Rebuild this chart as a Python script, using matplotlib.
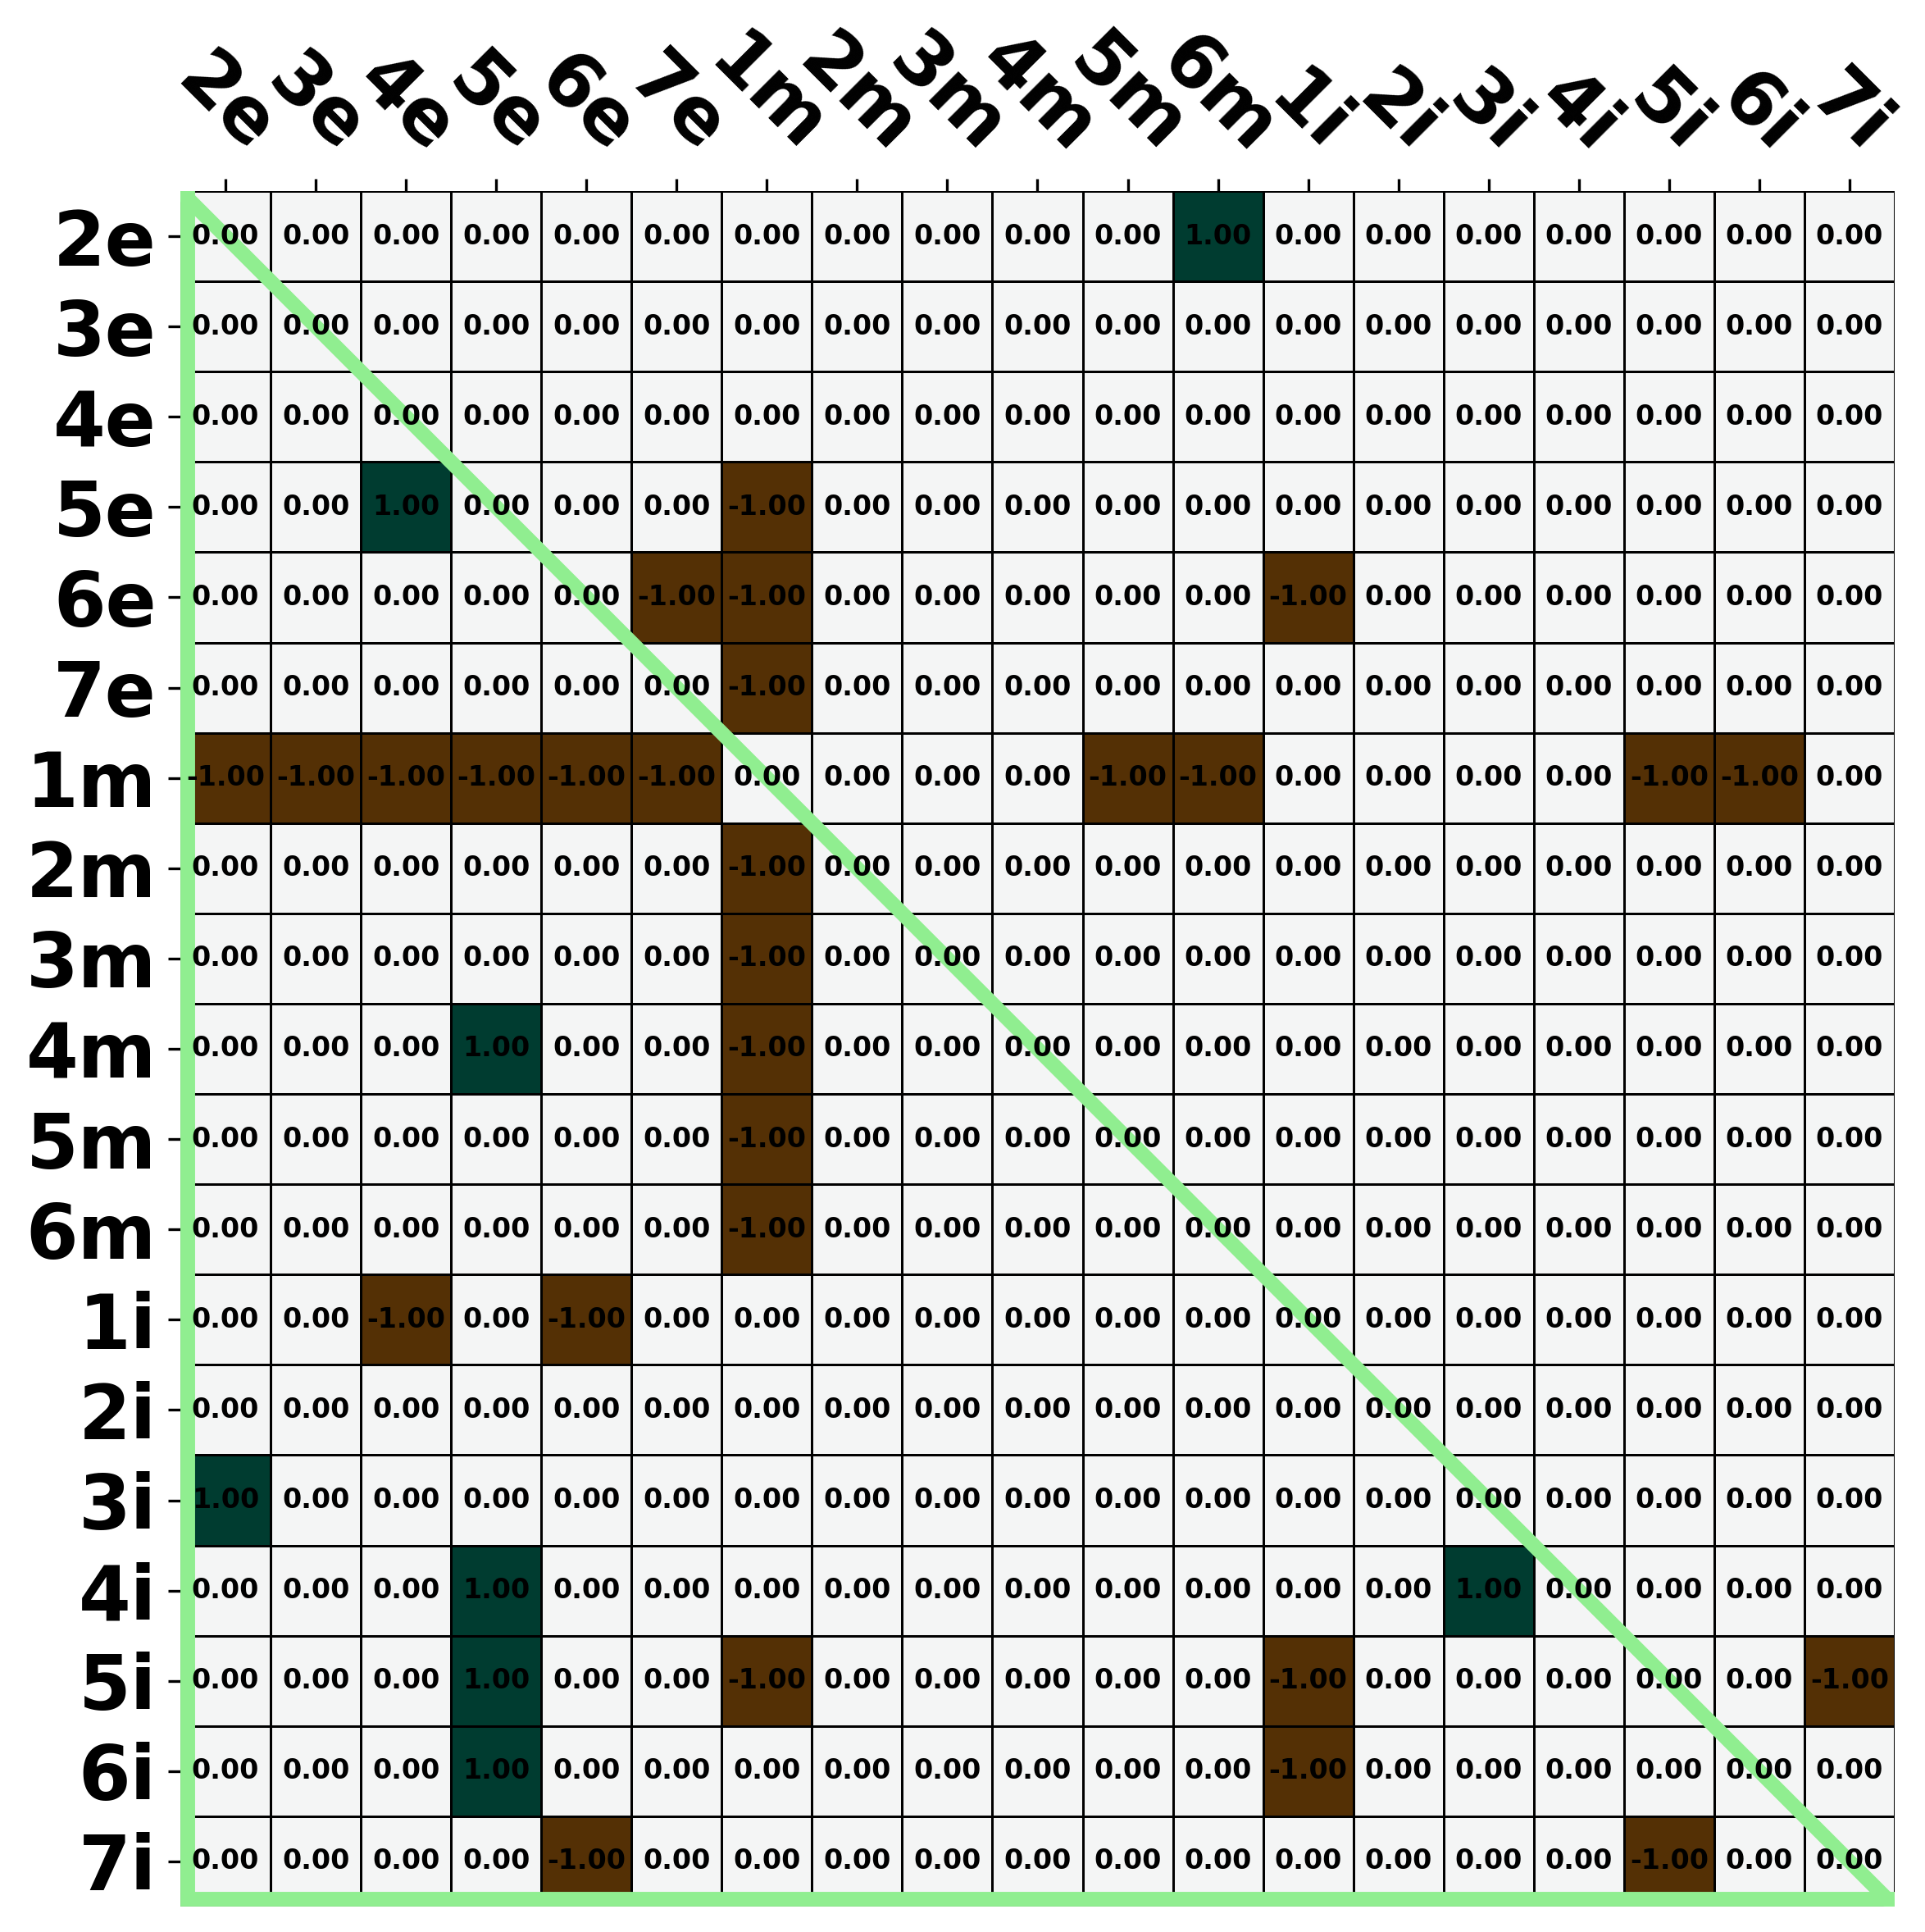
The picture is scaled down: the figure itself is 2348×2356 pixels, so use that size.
import numpy as np
import matplotlib
matplotlib.use('Agg')
import matplotlib.pyplot as plt

# labels for both axes
labels = ['2e', '3e', '4e', '5e', '6e', '7e',
          '1m', '2m', '3m', '4m', '5m', '6m',
          '1i', '2i', '3i', '4i', '5i', '6i', '7i']

# non-zero entries per row: (column label, value)
row_2e = [('6m', 1)]
row_3e = []
row_4e = []
row_5e = [('4e', 1), ('1m', -1)]
row_6e = [('7e', -1), ('1m', -1), ('1i', -1)]
row_7e = [('1m', -1)]
row_1m = [('2e', -1), ('3e', -1), ('4e', -1), ('5e', -1), ('6e', -1), ('7e', -1),
          ('5m', -1), ('6m', -1), ('5i', -1), ('6i', -1)]
row_2m = [('1m', -1)]
row_3m = [('1m', -1)]
row_4m = [('5e', 1), ('1m', -1)]
row_5m = [('1m', -1)]
row_6m = [('1m', -1)]
row_1i = [('4e', -1), ('6e', -1)]
row_2i = []
row_3i = [('2e', 1)]
row_4i = [('5e', 1), ('3i', 1)]
row_5i = [('5e', 1), ('1m', -1), ('1i', -1), ('7i', -1)]
row_6i = [('5e', 1), ('1i', -1)]
row_7i = [('6e', -1), ('5i', -1)]

rows = [row_2e, row_3e, row_4e, row_5e, row_6e, row_7e,
        row_1m, row_2m, row_3m, row_4m, row_5m, row_6m,
        row_1i, row_2i, row_3i, row_4i, row_5i, row_6i, row_7i]

n = len(labels)
matrix = np.zeros((n, n))
for i, entries in enumerate(rows):
    for col, val in entries:
        matrix[i, labels.index(col)] = val

W, H = 2348, 2356
fig = plt.figure(figsize=(W / 300, H / 300), dpi=300)
ax = fig.add_axes([220 / W, 1 - 2325 / H, 2091 / W, 2092 / H])

ax.pcolormesh(np.arange(n + 1), np.arange(n + 1), matrix, cmap='BrBG',
              vmin=-1, vmax=1, edgecolors='black', linewidth=0.65)
ax.set_xlim(0, n)
ax.set_ylim(n, 0)

for i in range(n):
    for j in range(n):
        ax.text(j + 0.5, i + 0.5, f"{matrix[i, j]:.2f}", ha='center', va='center',
                fontsize=8, fontweight='bold', color='black')

# lower triangle outline
lw = 4.3
d = 0.082
ax.plot([0, n], [0, n], color='#90EE90', linewidth=lw)
ax.plot([d, d, n], [0, n - d, n - d], color='#90EE90', linewidth=lw,
        solid_joinstyle='miter')

ax.xaxis.tick_top()
ax.set_xticks(np.arange(n) + 0.5)
ax.set_yticks(np.arange(n) + 0.5)
ax.set_xticklabels(labels, rotation=-45, ha='center', fontsize=22, fontweight='bold')
ax.set_yticklabels(labels, fontsize=22, fontweight='bold')
for s in ax.spines.values():
    s.set_visible(False)

fig.savefig('out.png', dpi=300)
